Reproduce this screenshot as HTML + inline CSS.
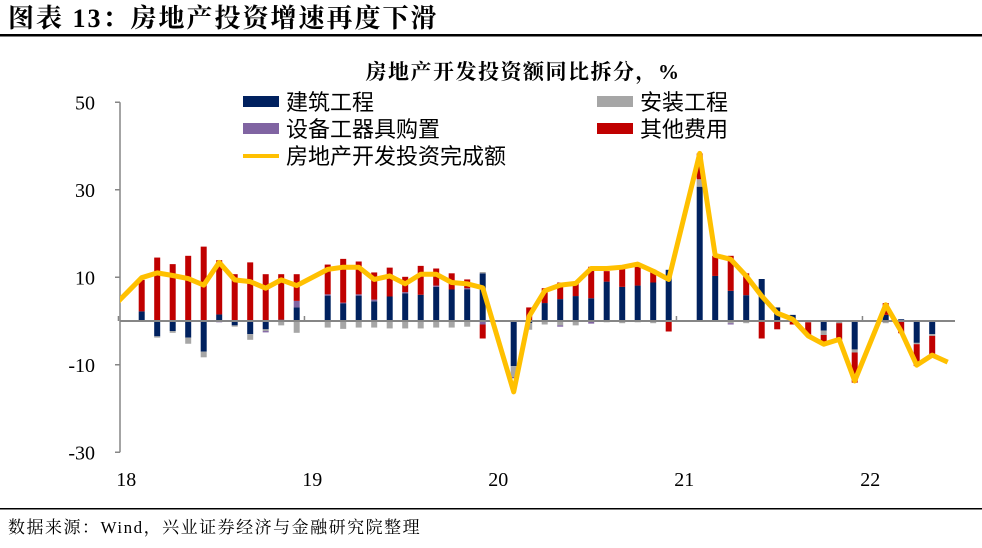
<!DOCTYPE html>
<html><head><meta charset="utf-8">
<style>
body{margin:0;background:#fff;width:982px;height:548px;overflow:hidden;font-family:"Liberation Serif","Noto Serif CJK SC",serif;}
svg{position:absolute;left:0;top:0}
</style></head>
<body>
<svg id="c" width="982" height="548">
<text x="8" y="27" font-size="26" font-weight="bold" letter-spacing="2" font-family="Liberation Serif,Noto Serif CJK SC,serif">图表 13：房地产投资增速再度下滑</text>
<rect x="0" y="34" width="982" height="2.5" fill="#000"/>
<text x="523" y="79" font-size="21" font-weight="bold" letter-spacing="1.5" text-anchor="middle" font-family="Liberation Serif,Noto Serif CJK SC,serif">房地产开发投资额同比拆分，%</text>
<g font-size="22" font-family="Liberation Serif,Noto Sans CJK SC,sans-serif">
<rect x="243" y="96" width="36" height="11" fill="#00215f"/>
<text x="286" y="110">建筑工程</text>
<rect x="597" y="96" width="36" height="11" fill="#a6a6a6"/>
<text x="640" y="110">安装工程</text>
<rect x="243" y="123" width="36" height="11" fill="#8064a2"/>
<text x="286" y="137">设备工器具购置</text>
<rect x="597" y="123" width="36" height="11" fill="#c00000"/>
<text x="640" y="137">其他费用</text>
<rect x="243" y="154" width="36" height="4" fill="#ffc000"/>
<text x="286" y="164">房地产开发投资完成额</text>
</g>
<g id="plot"></g>
<rect x="0" y="508" width="982" height="1.5" fill="#000"/>
<text x="8" y="533" font-size="17" letter-spacing="1.5" font-family="Liberation Serif,Noto Serif CJK SC,serif">数据来源：Wind，兴业证券经济与金融研究院整理</text>
</svg>
<script>
const months = [1,2,3,4,5,6,7,8,9,10,11, 13,14,15,16,17,18,19,20,21,22,23, 25,26,27,28,29,30,31,32,33,34,35, 37,38,39,40,41,42,43,44,45,46,47, 49,50,51,52,53];
const construction = [2.2,-3.5,-2.3,-3.8,-7,1.5,-1,-3,-1.9,0.3,3.1, 5.8,4.0,5.8,4.5,5.6,6.3,6.0,7.8,7.2,7.2,10.9, -10.3,-0.5,4.1,5.0,5.7,5.2,9.0,7.8,8.1,8.8,11.7, 30.7,10.3,6.9,5.9,9.6,3.1,1.4,0,-2.2,0,-6.5, 1.4,0.4,-5.0,-3.0,0];
const installation = [0,-0.3,-0.4,-1.4,-1.3,0,-0.3,-1.3,-0.4,-1,-2.7, -1.5,-1.8,-1.5,-1.5,-1.7,-1.7,-1.7,-1.5,-1.5,-1.3,0.3, -2.5,-1.5,-0.8,-1,-1,0,-0.3,-0.5,-0.3,-0.5,0, 1.7,0,-0.5,-0.5,0,0,0,-0.3,-1.0,-0.5,-0.7, -0.5,0,-0.3,-0.4,0];
const equipment = [0,0,0,0,0,-0.3,0,0,-0.3,0,1.5, 0.3,0.2,0.3,0.4,0,0.3,0,0.3,0,0.3,-0.8, -0.3,0,0,-0.3,0,-0.6,0,0,0,0,0, 0,0,-0.3,0,0,0,0,0,0,0,0, 0,0,0,0,0];
const other = [7.2,14.5,13,14.9,17,12.4,10.7,13.4,10.7,10.4,6.1, 6.8,10.0,7.5,6.2,6.6,3.5,6.6,3.9,3.7,2.0,-3.2, 0,3.1,3.4,3.8,3.3,7.2,2.4,4.8,4.3,2.9,-2.4, 5.9,4.6,8.0,5.0,-4.0,-1.9,-0.8,-2.9,-1.5,-3.8,-6.9, 2.7,-2.8,-5.0,-4.4,0];
const totalMonths = [-1,1,2,3,4,5,6,7,8,9,10,11, 13,14,15,16,17,18,19,20,21,22,23, 25,26,27,28,29,30,31,32,33,34,35, 37,38,39,40,41,42,43,44,45,46,47, 49,50,51,52,53];
const total = [2.7,9.9,11.0,10.4,9.7,8.2,13.4,9.4,9.0,7.5,9.4,8.1, 11.8,12.3,12.3,9.5,10.3,8.5,10.7,10.7,8.8,8.5,7.6, -16.2,1.1,6.9,8.2,8.6,12.0,12.0,12.3,13.0,11.4,9.5, 38.3,15.0,14.1,10.3,5.7,1.8,0.4,-3.4,-5.3,-4.2,-13.7, 3.7,-2.4,-10.1,-7.8,-9.4];
const yTicks = [50,30,10,-10,-30];
const xLabels = ["18","19","20","21","22"];
const xLabelMonths = [0,12,24,36,48];

const NS="http://www.w3.org/2000/svg";
const g=document.getElementById('plot');
const X0=120, X1=960;
const xs=m=>126.2+15.5*m;
const ys=v=>321-4.375*v;
function mk(t,a){const e=document.createElementNS(NS,t);for(const k in a)e.setAttribute(k,a[k]);g.appendChild(e);return e;}
const defs=mk('defs',{});
const cp=document.createElementNS(NS,'clipPath');cp.setAttribute('id','cl');
const cr=document.createElementNS(NS,'rect');cr.setAttribute('x',X0);cr.setAttribute('y',90);cr.setAttribute('width',X1-X0);cr.setAttribute('height',380);
cp.appendChild(cr);defs.appendChild(cp);
let ax=mk('line',{x1:X0,y1:ys(50),x2:X0,y2:ys(-30),stroke:'#868686','stroke-width':1.5});


yTicks.forEach(v=>{
 let t=mk('line',{x1:X0-5,y1:ys(v),x2:X0,y2:ys(v),stroke:'#868686','stroke-width':1.5});
 
 
 let l=mk('text',{x:95,y:ys(v)+7,'font-size':20,'text-anchor':'end','font-family':'Liberation Serif,serif'});
 l.textContent=v;
 
 
});
xLabels.forEach((s,i)=>{
 let l=mk('text',{x:xs(xLabelMonths[i]),y:486,'font-size':20,'text-anchor':'middle','font-family':'Liberation Serif,serif'});
 l.textContent=s;
 
 
 let t=mk('line',{x1:xs(xLabelMonths[i])-7.75,y1:ys(0),x2:xs(xLabelMonths[i])-7.75,y2:ys(0)-5,stroke:'#868686','stroke-width':1.5});
 
 
});
const series=[[construction,'#00215f'],[installation,'#a6a6a6'],[equipment,'#8064a2'],[other,'#c00000']];
months.forEach((m,i)=>{
 let pos=0,neg=0;
 series.forEach(([arr,col])=>{
  const v=arr[i]; if(!v) return;
  let a,b;
  if(v>0){a=pos;b=pos+v;pos=b;}else{a=neg;b=neg+v;neg=b;}
  const y1=ys(Math.max(a,b)),y2=ys(Math.min(a,b));
  let r=mk('rect',{x:xs(m)-3,y:y1,width:6,height:y2-y1,fill:col});
  
  
 });
});
let z=mk('line',{x1:X0,y1:ys(0),x2:955,y2:ys(0),stroke:'#868686','stroke-width':2});


let pts=totalMonths.map((m,i)=>xs(m)+','+ys(total[i])).join(' ');
let pl=mk('polyline',{points:pts,fill:'none',stroke:'#ffc000','stroke-width':5,'stroke-linejoin':'round','clip-path':'url(#cl)'});


</script>
</body></html>
